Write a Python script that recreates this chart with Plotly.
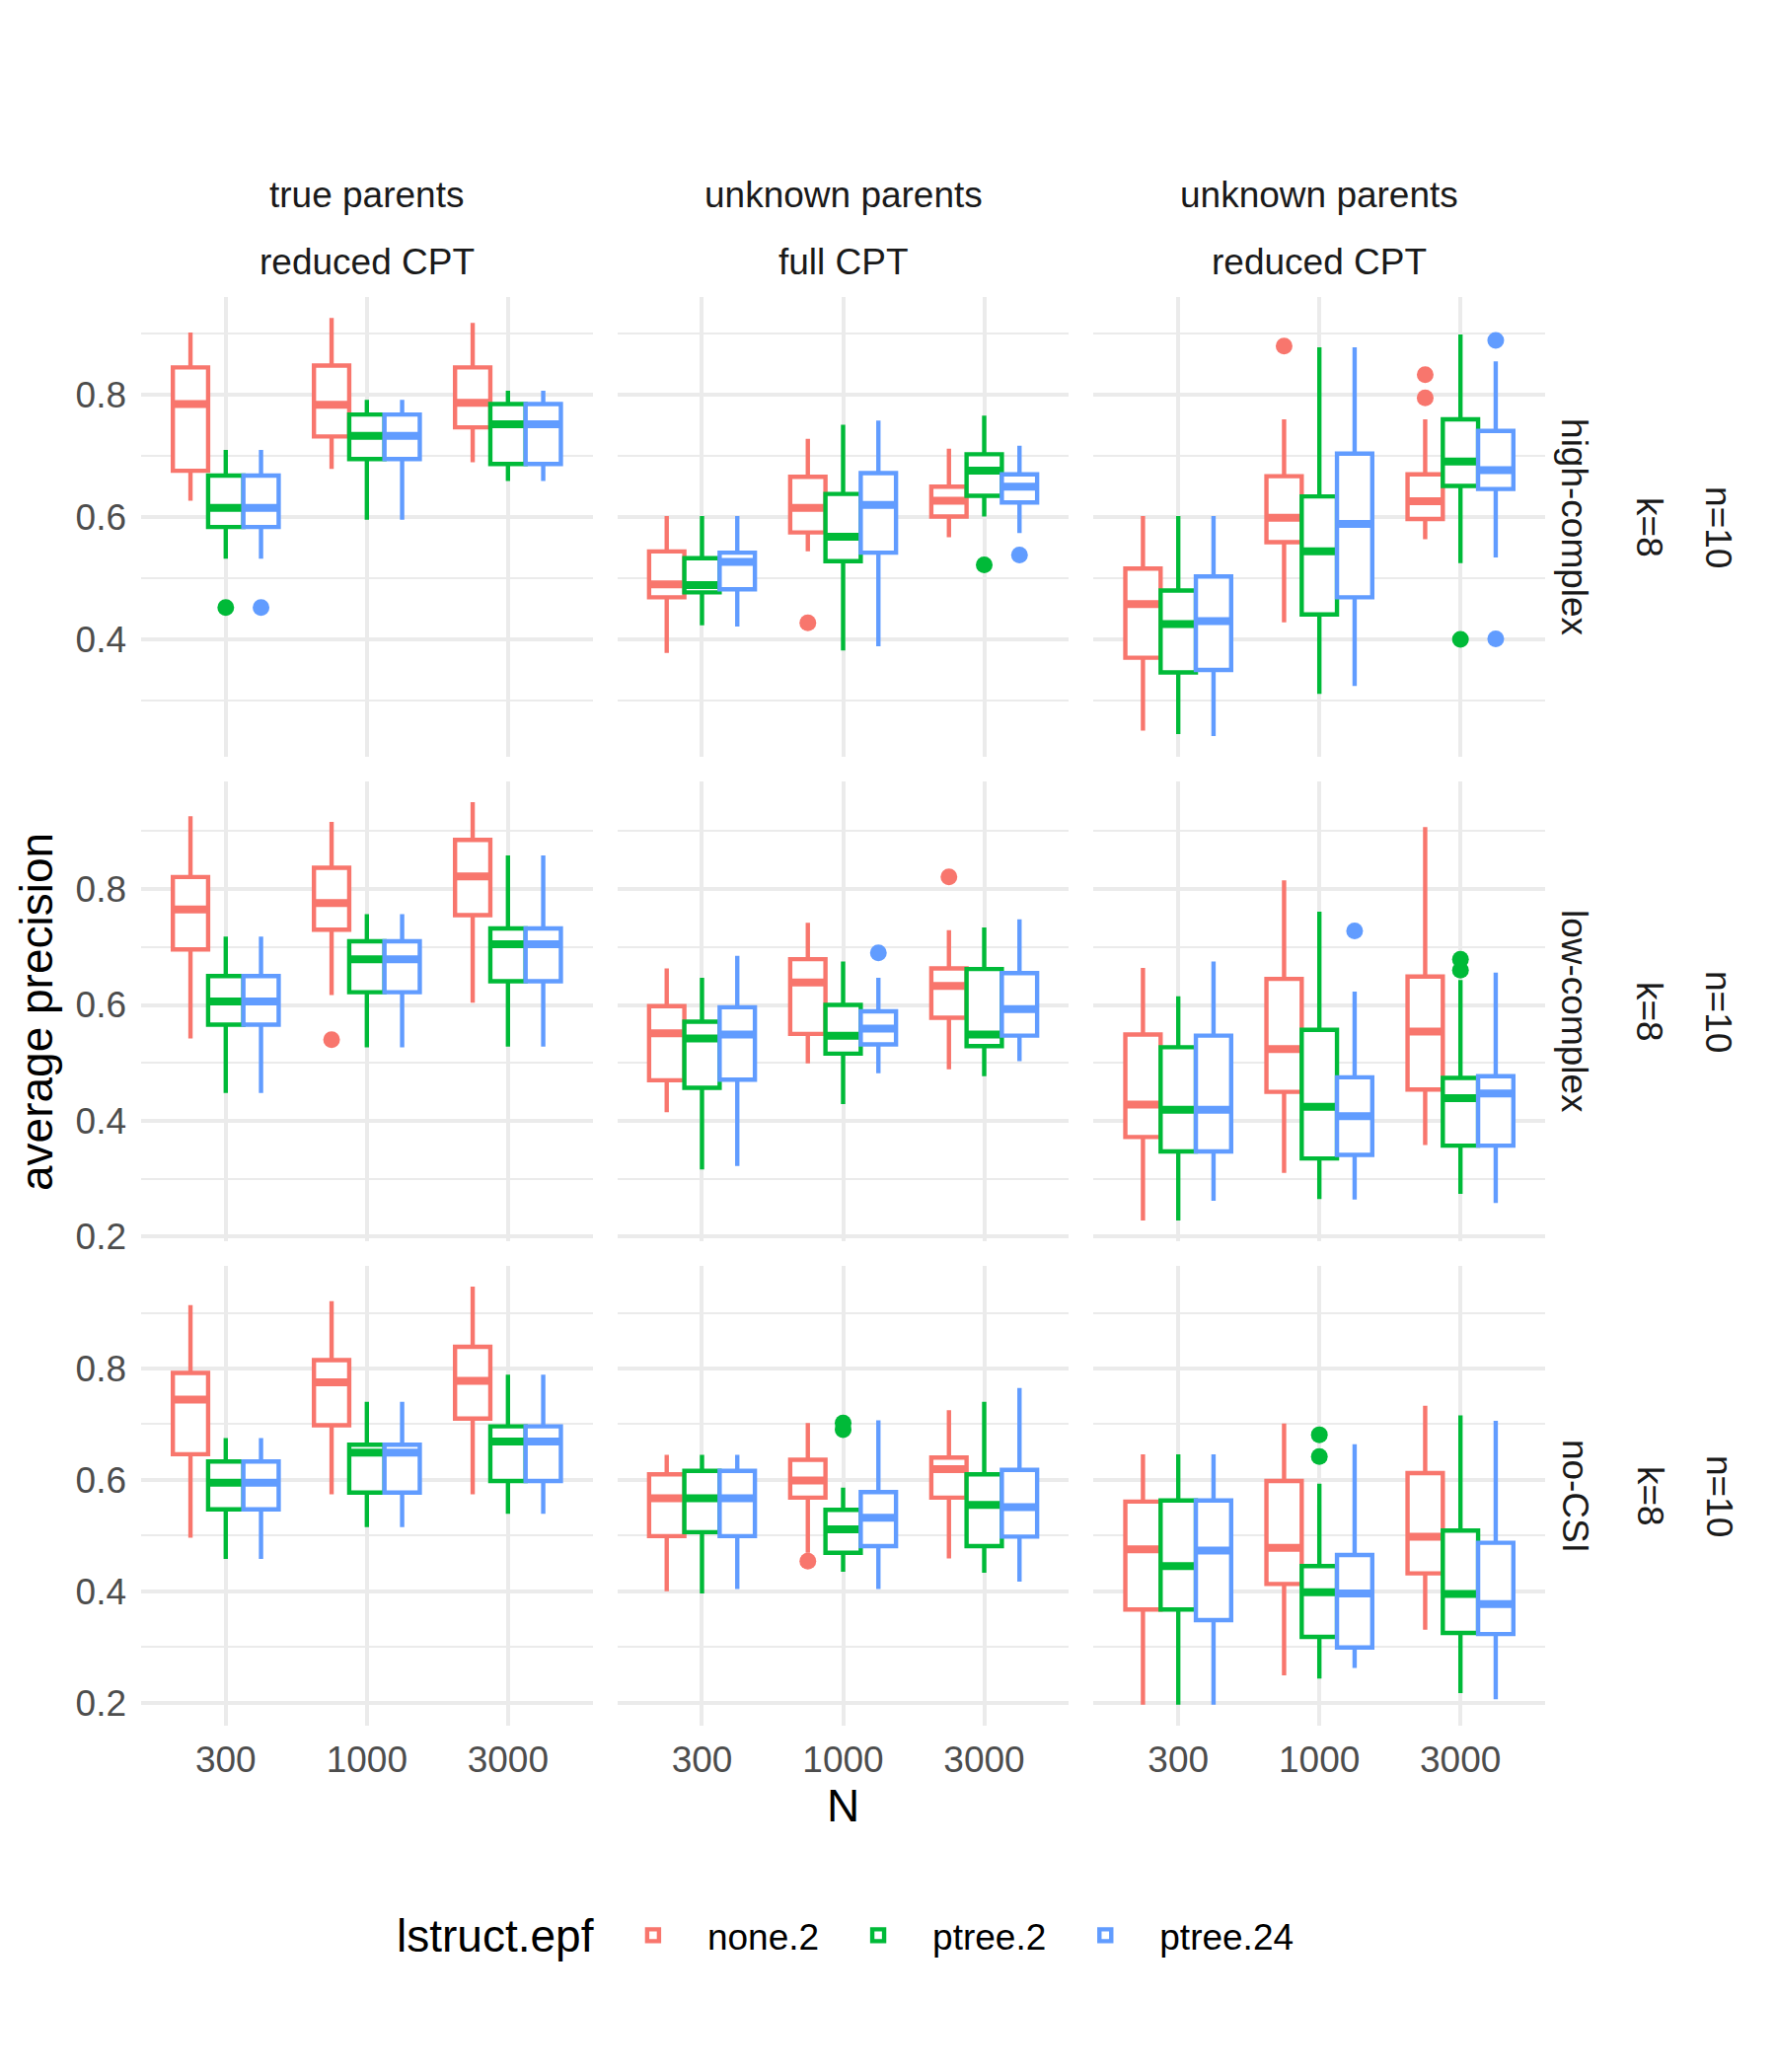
import plotly.graph_objects as go
from plotly.subplots import make_subplots

N_LABELS = ["300", "1000", "3000"]
SERIES = ["none.2", "ptree.2", "ptree.24"]
COLORS = ["#F8766D", "#00BA38", "#619CFF"]
COL_STRIP_TOP = ["true parents", "unknown parents", "unknown parents"]
COL_STRIP_BOTTOM = ["reduced CPT", "full CPT", "reduced CPT"]
ROW_STRIP = ["high-complex", "low-complex", "no-CSI"]
ROW_K = ["k=8", "k=8", "k=8"]
ROW_N = ["n=10", "n=10", "n=10"]

# ---- row "high-complex": [column][series][N] ----
high_lo = [[[0.627, 0.679, 0.690], [0.532, 0.596, 0.659], [0.532, 0.596, 0.659]],
           [[0.378, 0.544, 0.567], [0.423, 0.382, 0.601], [0.421, 0.389, 0.574]],
           [[0.251, 0.428, 0.564], [0.245, 0.311, 0.525], [0.242, 0.324, 0.534]]]
high_q1 = [[[0.676, 0.732, 0.747], [0.584, 0.695, 0.687], [0.584, 0.695, 0.687]],
           [[0.469, 0.575, 0.601], [0.477, 0.528, 0.635], [0.482, 0.542, 0.624]],
           [[0.370, 0.559, 0.597], [0.346, 0.441, 0.651], [0.350, 0.469, 0.646]]]
high_med = [[[0.785, 0.784, 0.787], [0.615, 0.733, 0.752], [0.615, 0.733, 0.752]],
            [[0.490, 0.615, 0.627], [0.489, 0.568, 0.676], [0.527, 0.620, 0.650]],
            [[0.458, 0.599, 0.626], [0.425, 0.544, 0.691], [0.430, 0.589, 0.677]]]
high_q3 = [[[0.845, 0.848, 0.845], [0.668, 0.768, 0.785], [0.668, 0.768, 0.785]],
           [[0.544, 0.666, 0.650], [0.533, 0.638, 0.703], [0.542, 0.672, 0.670]],
           [[0.516, 0.667, 0.670], [0.480, 0.634, 0.760], [0.503, 0.704, 0.741]]]
high_hi = [[[0.902, 0.926, 0.918], [0.710, 0.792, 0.807], [0.710, 0.792, 0.807]],
           [[0.602, 0.728, 0.712], [0.602, 0.751, 0.766], [0.602, 0.758, 0.717]],
           [[0.602, 0.760, 0.760], [0.602, 0.878, 0.899], [0.602, 0.878, 0.855]]]

# ---- row "low-complex" ----
low_lo = [[[0.542, 0.617, 0.604], [0.448, 0.527, 0.528], [0.448, 0.527, 0.528]],
          [[0.415, 0.499, 0.489], [0.316, 0.429, 0.477], [0.322, 0.482, 0.503]],
          [[0.228, 0.310, 0.358], [0.228, 0.265, 0.274], [0.262, 0.264, 0.258]]]
low_q1 = [[[0.696, 0.730, 0.755], [0.566, 0.622, 0.641], [0.566, 0.622, 0.641]],
          [[0.470, 0.550, 0.578], [0.457, 0.516, 0.529], [0.471, 0.532, 0.547]],
          [[0.372, 0.450, 0.454], [0.347, 0.335, 0.357], [0.347, 0.341, 0.357]]]
low_med = [[[0.765, 0.776, 0.822], [0.606, 0.679, 0.705], [0.606, 0.679, 0.705]],
           [[0.551, 0.639, 0.633], [0.542, 0.547, 0.549], [0.549, 0.559, 0.593]],
           [[0.428, 0.524, 0.554], [0.419, 0.424, 0.439], [0.419, 0.408, 0.447]]]
low_q3 = [[[0.821, 0.837, 0.885], [0.650, 0.710, 0.732], [0.650, 0.710, 0.732]],
          [[0.598, 0.679, 0.663], [0.571, 0.600, 0.662], [0.596, 0.589, 0.655]],
          [[0.549, 0.645, 0.649], [0.527, 0.557, 0.474], [0.547, 0.475, 0.477]]]
low_hi = [[[0.926, 0.916, 0.950], [0.718, 0.757, 0.858], [0.718, 0.757, 0.858]],
          [[0.663, 0.742, 0.729], [0.647, 0.675, 0.734], [0.685, 0.647, 0.748]],
          [[0.664, 0.815, 0.907], [0.615, 0.761, 0.643], [0.675, 0.623, 0.656]]]

# ---- row "no-CSI" ----
nocsi_lo = [[[0.496, 0.574, 0.574], [0.458, 0.515, 0.539], [0.458, 0.515, 0.539]],
            [[0.400, 0.469, 0.459], [0.396, 0.435, 0.433], [0.404, 0.404, 0.417]],
            [[0.196, 0.249, 0.331], [0.196, 0.243, 0.217], [0.196, 0.262, 0.206]]]
nocsi_q1 = [[[0.646, 0.698, 0.710], [0.547, 0.577, 0.598], [0.547, 0.577, 0.598]],
            [[0.499, 0.568, 0.568], [0.506, 0.469, 0.481], [0.499, 0.481, 0.498]],
            [[0.367, 0.413, 0.432], [0.367, 0.318, 0.325], [0.348, 0.299, 0.323]]]
nocsi_med = [[[0.744, 0.775, 0.778], [0.595, 0.649, 0.669], [0.595, 0.649, 0.669]],
             [[0.567, 0.599, 0.619], [0.567, 0.511, 0.555], [0.567, 0.532, 0.551]],
             [[0.475, 0.478, 0.498], [0.445, 0.398, 0.395], [0.473, 0.396, 0.377]]]
nocsi_q3 = [[[0.792, 0.815, 0.839], [0.633, 0.663, 0.696], [0.633, 0.663, 0.696]],
            [[0.610, 0.636, 0.640], [0.616, 0.546, 0.610], [0.616, 0.578, 0.618]],
            [[0.561, 0.598, 0.612], [0.563, 0.445, 0.509], [0.563, 0.465, 0.487]]]
nocsi_hi = [[[0.914, 0.921, 0.947], [0.675, 0.740, 0.789], [0.675, 0.740, 0.789]],
            [[0.645, 0.702, 0.725], [0.645, 0.586, 0.740], [0.645, 0.707, 0.765]],
            [[0.646, 0.701, 0.733], [0.646, 0.593, 0.716], [0.646, 0.664, 0.706]]]

# outliers: (row, column, series, N, value)
OUTLIERS = [
    (0, 0, 1, "300", 0.452), (0, 0, 2, "300", 0.452),
    (0, 1, 0, "1000", 0.427), (0, 1, 1, "3000", 0.522), (0, 1, 2, "3000", 0.538),
    (0, 2, 0, "1000", 0.880), (0, 2, 0, "3000", 0.833), (0, 2, 0, "3000", 0.795),
    (0, 2, 1, "3000", 0.400), (0, 2, 2, "3000", 0.889), (0, 2, 2, "3000", 0.401),
    (1, 0, 0, "1000", 0.540),
    (1, 1, 0, "3000", 0.821), (1, 1, 2, "1000", 0.690),
    (1, 2, 1, "3000", 0.679), (1, 2, 1, "3000", 0.660), (1, 2, 2, "1000", 0.728),
    (2, 1, 0, "1000", 0.454), (2, 1, 1, "1000", 0.702), (2, 1, 1, "1000", 0.690),
    (2, 2, 1, "1000", 0.681), (2, 2, 1, "1000", 0.642),
]

ROWS = [
    (high_lo, high_q1, high_med, high_q3, high_hi),
    (low_lo, low_q1, low_med, low_q3, low_hi),
    (nocsi_lo, nocsi_q1, nocsi_med, nocsi_q3, nocsi_hi),
]

FONT = "Liberation Sans"
GRID = "#EBEBEB"

fig = make_subplots(rows=3, cols=3, shared_xaxes=True, shared_yaxes=True,
                    horizontal_spacing=0.0176, vertical_spacing=0.0171)

row_ranges = []
for r, (lo, q1, med, q3, hi) in enumerate(ROWS):
    vals = [v for c in range(3) for s in range(3) for v in lo[c][s] + hi[c][s]]
    vals += [o[4] for o in OUTLIERS if o[0] == r]
    vmin, vmax = min(vals), max(vals)
    pad = 0.05 * (vmax - vmin)
    row_ranges.append([vmin - pad, vmax + pad])
    for c in range(3):
        for s in range(3):
            fig.add_trace(go.Box(
                x=N_LABELS, q1=q1[c][s], median=med[c][s], q3=q3[c][s],
                lowerfence=lo[c][s], upperfence=hi[c][s],
                name=SERIES[s], legendgroup=SERIES[s], offsetgroup=SERIES[s],
                showlegend=(r == 0 and c == 0), boxpoints=False,
                line=dict(color=COLORS[s], width=4.4), fillcolor="white",
                whiskerwidth=0), row=r + 1, col=c + 1)
            # bold median (ggplot fatten)
            fig.add_trace(go.Box(
                x=N_LABELS, q1=med[c][s], median=med[c][s], q3=med[c][s],
                lowerfence=med[c][s], upperfence=med[c][s],
                name=SERIES[s], legendgroup=SERIES[s], offsetgroup=SERIES[s],
                showlegend=False, boxpoints=False, hoverinfo="skip",
                line=dict(color=COLORS[s], width=8), fillcolor=COLORS[s],
                whiskerwidth=0), row=r + 1, col=c + 1)
            pts = [o for o in OUTLIERS if o[0] == r and o[1] == c and o[2] == s]
            if pts:
                fig.add_trace(go.Box(
                    x=[o[3] for o in pts], y=[o[4] for o in pts],
                    name=SERIES[s], legendgroup=SERIES[s], offsetgroup=SERIES[s],
                    showlegend=False, boxpoints="all", jitter=0, pointpos=0,
                    line=dict(color="rgba(0,0,0,0)", width=0),
                    fillcolor="rgba(0,0,0,0)",
                    marker=dict(color=COLORS[s], size=17, line=dict(width=0))),
                    row=r + 1, col=c + 1)

fig.update_xaxes(type="category", categoryorder="array", categoryarray=N_LABELS,
                 range=[-0.6, 2.6], showgrid=True, gridcolor=GRID, gridwidth=3.5,
                 zeroline=False, showline=False, ticks="",
                 tickfont=dict(family=FONT, size=37, color="#4D4D4D"),
                 ticklabelstandoff=9)
for r in range(3):
    fig.update_yaxes(range=row_ranges[r], tick0=0, dtick=0.2, tickformat=".1f",
                     showgrid=True, gridcolor=GRID, gridwidth=3.5,
                     minor=dict(dtick=0.1, tick0=0, showgrid=True, gridcolor=GRID,
                                gridwidth=1.8),
                     zeroline=False, showline=False, ticks="",
                     tickfont=dict(family=FONT, size=37, color="#4D4D4D"),
                     ticklabelstandoff=14, row=r + 1)

annotations = []
for c in range(3):
    dom = fig.layout["xaxis" + ("" if c == 0 else str(c + 1))].domain
    xc = (dom[0] + dom[1]) / 2
    annotations.append(dict(text=COL_STRIP_TOP[c], x=xc, y=1.0718, xref="paper", yref="paper",
                            showarrow=False, xanchor="center", yanchor="middle",
                            font=dict(family=FONT, size=37, color="#1A1A1A")))
    annotations.append(dict(text=COL_STRIP_BOTTOM[c], x=xc, y=1.0242, xref="paper", yref="paper",
                            showarrow=False, xanchor="center", yanchor="middle",
                            font=dict(family=FONT, size=37, color="#1A1A1A")))
for r in range(3):
    dom = fig.layout["yaxis" + ("" if r == 0 else str(r * 3 + 1))].domain
    yc = (dom[0] + dom[1]) / 2
    for xp, txt in [(1.0211, ROW_STRIP[r]), (1.0745, ROW_K[r]), (1.1237, ROW_N[r])]:
        annotations.append(dict(text=txt, x=xp, y=yc, xref="paper", yref="paper",
                                showarrow=False, textangle=90, xanchor="center", yanchor="middle",
                                font=dict(family=FONT, size=37, color="#1A1A1A")))
annotations.append(dict(text="average precision", x=-0.0745, y=0.5, xref="paper", yref="paper",
                        showarrow=False, textangle=-90, xanchor="center", yanchor="middle",
                        font=dict(family=FONT, size=46, color="black")))
annotations.append(dict(text="N", x=0.5, y=-0.0559, xref="paper", yref="paper",
                        showarrow=False, xanchor="center", yanchor="middle",
                        font=dict(family=FONT, size=46, color="black")))
# legend title
annotations.append(dict(text="lstruct.epf", x=0.2523, y=-0.147, xref="paper", yref="paper",
                        showarrow=False, xanchor="center", yanchor="middle",
                        font=dict(family=FONT, size=46, color="black")))

fig.update_layout(
    width=1800, height=2100,
    margin=dict(l=143, r=234, t=301, b=351),
    paper_bgcolor="white", plot_bgcolor="white",
    boxmode="group", boxgap=0.25, boxgroupgap=0,
    font=dict(family=FONT, size=37, color="#4D4D4D"),
    annotations=annotations,
    legend=dict(orientation="h", x=0.326, xanchor="left", y=-0.147, yanchor="middle",
                font=dict(family=FONT, size=37, color="black"),
                itemwidth=100),
)

fig.write_html("out.html")
